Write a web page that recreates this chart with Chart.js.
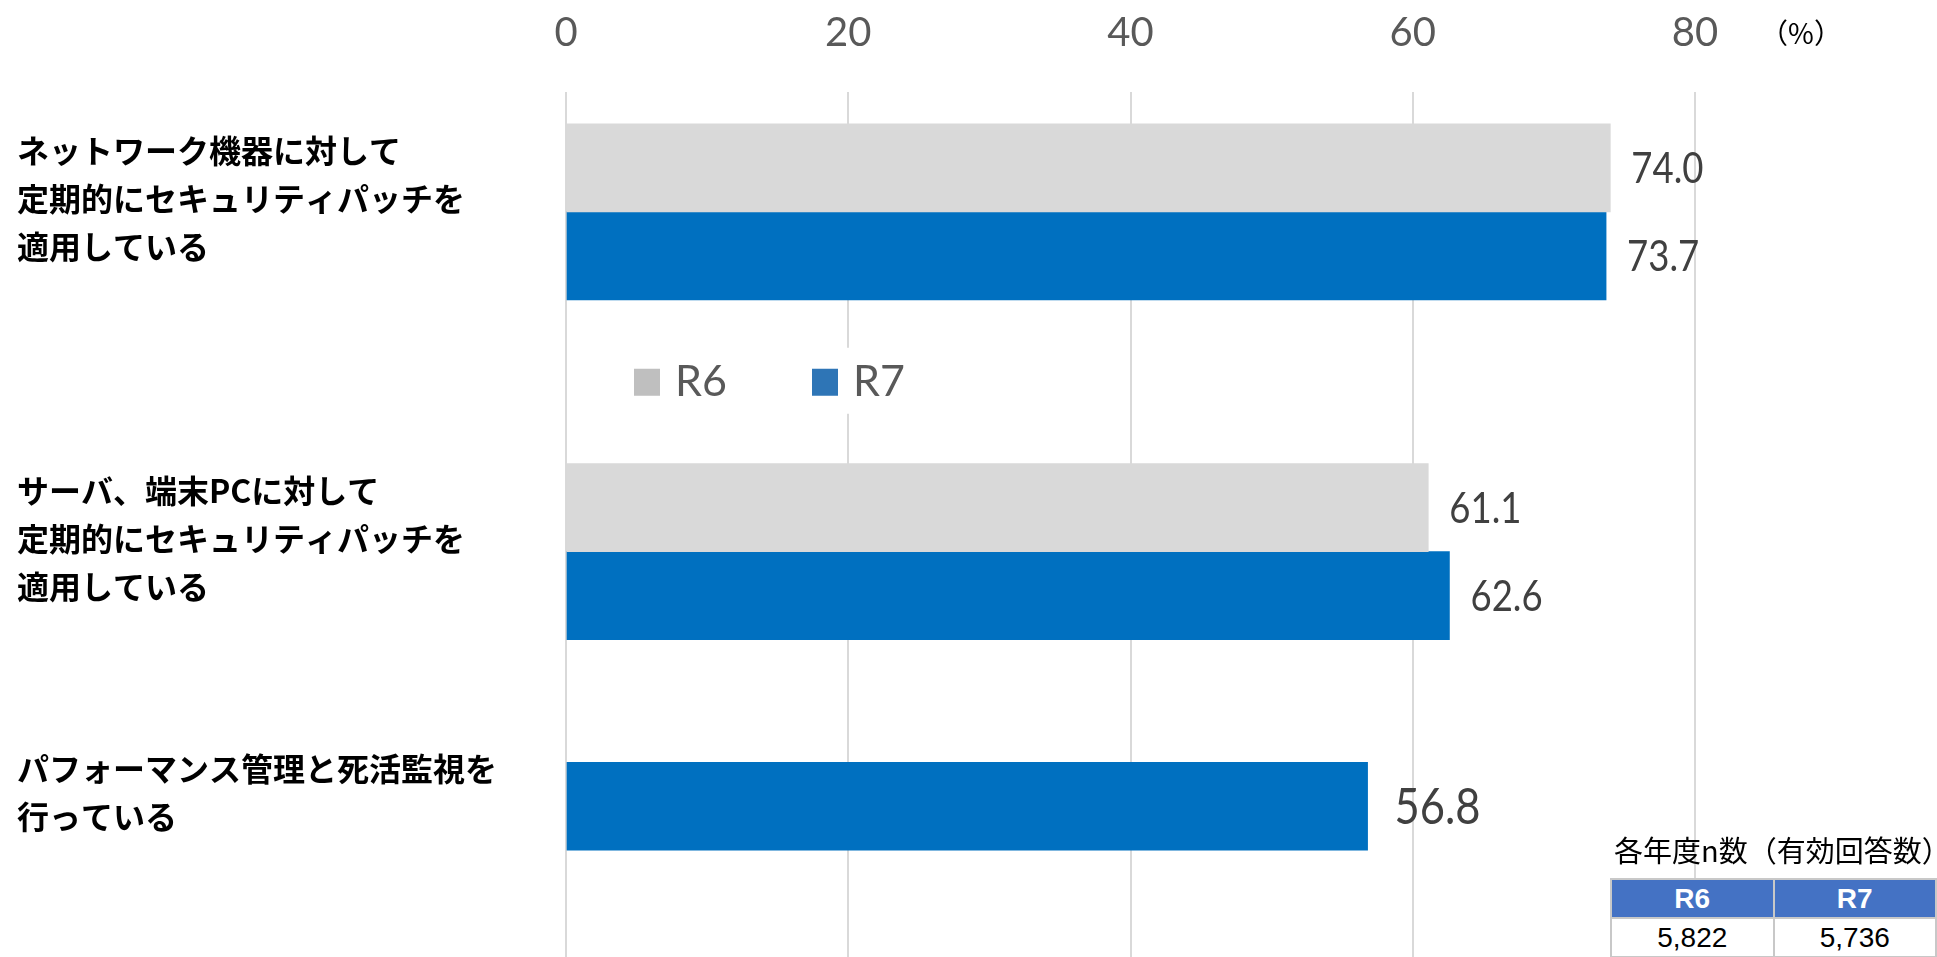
<!DOCTYPE html>
<html lang="ja">
<head>
<meta charset="utf-8">
<title>セキュリティパッチ適用・死活監視の実施状況</title>
<script src="https://cdn.jsdelivr.net/npm/chart.js@4.4.1/dist/chart.umd.min.js"></script>
<style>
  html, body { margin: 0; padding: 0; background: #fff; overflow: hidden; }
  #wrap { position: relative; width: 1937px; height: 957px; overflow: hidden; }
  #chart { position: absolute; left: 0; top: 0; }
  #nCaption {
    position: absolute; left: 1614px; top: 830px;
    font: 29px 'Noto Sans CJK JP', sans-serif; line-height: 38px;
    color: #000; white-space: nowrap;
  }
  #nTable {
    position: absolute; left: 1610px; top: 878px;
    border-collapse: collapse; background: #fff;
    font-family: 'Liberation Sans', Arial, sans-serif;
  }
  #nTable th, #nTable td {
    width: 164px; height: 37px; padding: 0;
    border: 2px solid #c8c8c8; text-align: center; font-size: 28px;
  }
  #nTable th { background: #4472c4; color: #fff; font-weight: bold; }
  #nTable td { color: #000; }
</style>
</head>
<body>
<div id="wrap">
  <canvas id="chart" width="1937" height="1019"></canvas>
  <div id="nCaption"></div>
  <table id="nTable"><thead><tr></tr></thead><tbody><tr></tr></tbody></table>
</div>
<script>
// 項目（複数行ラベル）
const categories = [
  ['ネットワーク機器に対して', '定期的にセキュリティパッチを', '適用している'],
  ['サーバ、端末PCに対して', '定期的にセキュリティパッチを', '適用している'],
  ['パフォーマンス管理と死活監視を', '行っている']
];
const years = ['R6', 'R7'];
const valuesR6 = [74.0, 61.1, null];   // 3項目目はR6の調査なし
const valuesR7 = [73.7, 62.6, 56.8];
const xTicks = [0, 20, 40, 60, 80];
const unitLabel = '（%）';
const nCaption = '各年度n数（有効回答数）';
const nCounts = [5822, 5736];

// 行の配置: 10段のうち 0, 4, 7 段目に項目を置き、2段目に凡例
const slotCount = 10;
const rowSlots = [0, 4, 7];
const legendSlot = 2;

const spread = arr => {
  const out = new Array(slotCount).fill(null);
  arr.forEach((v, i) => { out[rowSlots[i]] = v; });
  return out;
};
const slotLabels = new Array(slotCount).fill('');
categories.forEach((c, i) => { slotLabels[rowSlots[i]] = c; });

// 棒の右に数値
const valueLabels = {
  id: 'valueLabels',
  afterDatasetsDraw(chart) {
    const { ctx } = chart;
    const sets = chart.data.datasets;
    sets.forEach((ds, di) => {
      chart.getDatasetMeta(di).data.forEach((bar, i) => {
        const v = ds.data[i];
        if (v == null) return;
        const alone = sets.filter(d => d.data[i] != null).length === 1;
        const size = alone ? 50 : 42;
        ctx.save();
        ctx.translate(bar.x + (alone ? 27 : 21), bar.y);
        ctx.scale(0.87, 1);
        ctx.font = size + 'px Lato';
        ctx.fillStyle = '#404040';
        ctx.textAlign = 'left';
        ctx.textBaseline = 'middle';
        ctx.fillText(v.toFixed(1), 0, 2);
        ctx.restore();
      });
    });
  }
};

// 凡例（グラフ内、項目の間）
const inlineLegend = {
  id: 'inlineLegend',
  afterDatasetsDraw(chart) {
    const { ctx, chartArea } = chart;
    const y = chart.scales.y.getPixelForValue(legendSlot);
    let x = chartArea.left + 68;
    ctx.save();
    ctx.fillStyle = '#fff';
    ctx.fillRect(x - 30, y - 34, 360, 66);
    chart.data.datasets.forEach(ds => {
      ctx.fillStyle = ds.legendColor;
      ctx.fillRect(x, y - 13, 26, 27);
      ctx.fillStyle = '#595959';
      ctx.font = '43px Lato';
      ctx.textAlign = 'left';
      ctx.textBaseline = 'middle';
      ctx.fillText(ds.label, x + 41, y);
      x += 178;
    });
    ctx.restore();
  }
};

// 軸の単位
const axisUnit = {
  id: 'axisUnit',
  afterDraw(chart) {
    const { ctx } = chart;
    const x = chart.scales.x.getPixelForValue(xTicks[xTicks.length - 1]) + 106;
    ctx.save();
    ctx.fillStyle = '#000';
    ctx.font = "28px 'Noto Sans CJK JP'";
    ctx.textAlign = 'center';
    ctx.textBaseline = 'middle';
    ctx.fillText(unitLabel, x, 33);
    ctx.restore();
  }
};

const ctx = document.getElementById('chart').getContext('2d');
new Chart(ctx, {
  type: 'bar',
  data: {
    labels: slotLabels,
    datasets: [
      { label: years[0], data: spread(valuesR6), backgroundColor: '#d9d9d9', legendColor: '#bfbfbf', clip: false },
      { label: years[1], data: spread(valuesR7), backgroundColor: '#0070c0', legendColor: '#2e75b6', clip: false }
    ]
  },
  options: {
    indexAxis: 'y',
    responsive: false,
    maintainAspectRatio: false,
    animation: false,
    layout: { padding: { left: 17, right: 242, top: 0, bottom: 0.5 } },
    datasets: { bar: { barThickness: 88, skipNull: true, borderWidth: 0 } },
    plugins: { legend: { display: false }, tooltip: { enabled: false } },
    scales: {
      x: {
        position: 'top',
        min: xTicks[0],
        max: xTicks[xTicks.length - 1],
        ticks: {
          stepSize: xTicks[1] - xTicks[0],
          padding: 35,
          color: '#595959',
          font: { family: 'Lato', size: 40 }
        },
        grid: { color: '#d9d9d9', lineWidth: 2, tickLength: 77.5 },
        border: { display: false },
        afterFit: scale => { scale.height = 169.5; }
      },
      y: {
        ticks: {
          autoSkip: false,
          crossAlign: 'far',
          labelOffset: -13,
          padding: 0,
          color: '#000',
          font: { family: "'Noto Sans CJK JP'", size: 32, weight: 'bold', lineHeight: 1.5 }
        },
        grid: { display: false },
        border: { display: false },
        afterFit: scale => {
          // 複数行ラベルの高さ分の余白は不要
          scale.width = 549;
          scale.paddingTop = 0;
          scale.paddingBottom = 0;
        }
      }
    }
  },
  plugins: [valueLabels, inlineLegend, axisUnit]
});

// n数の表
document.getElementById('nCaption').textContent = nCaption;
const table = document.getElementById('nTable');
table.querySelector('thead tr').innerHTML = years.map(y => `<th>${y}</th>`).join('');
table.querySelector('tbody tr').innerHTML = nCounts.map(n => `<td>${n.toLocaleString('en-US')}</td>`).join('');
</script>
</body>
</html>
